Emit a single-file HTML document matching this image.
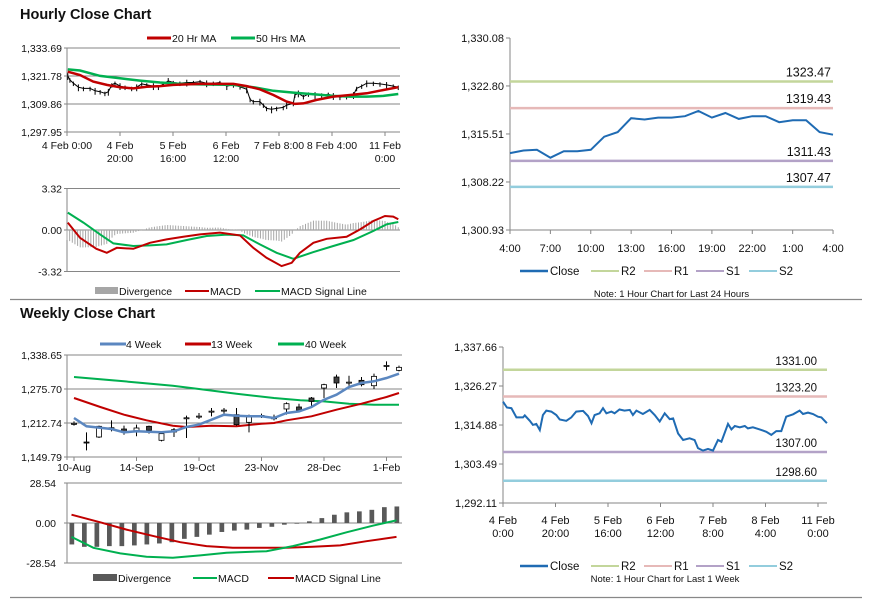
<!DOCTYPE html>
<html><head><meta charset="utf-8"><style>
html,body{margin:0;padding:0;background:#fff;}
svg{display:block;font-family:"Liberation Sans",Arial,sans-serif;}
</style></head><body>
<svg id="s" width="873" height="601" viewBox="0 0 873 601" xmlns="http://www.w3.org/2000/svg">
<rect width="873" height="601" fill="#fff"/>
<text x="20" y="19" font-size="14.5" font-weight="bold" fill="#111">Hourly Close Chart</text>
<text x="20" y="318" font-size="14.5" font-weight="bold" fill="#111">Weekly Close Chart</text>
<line x1="10" y1="299.5" x2="862" y2="299.5" stroke="#888" stroke-width="1.2"/>
<line x1="10" y1="597.5" x2="862" y2="597.5" stroke="#888" stroke-width="1.2"/>
<g id="g"></g>
</svg>
<script>
// ---------- data ----------
const hTicksY=["1,333.69","1,321.78","1,309.86","1,297.95"];
const hTickVals=[1333.69,1321.78,1309.86,1297.95];
const hXLabels1=["4 Feb 0:00","4 Feb","5 Feb","6 Feb","7 Feb 8:00","8 Feb 4:00","11 Feb"];
const hXLabels2=["","20:00","16:00","12:00","","","0:00"];
const hXHours=[0,20,40,60,80,100,120];
const priceHours=[0.3,1.1,2.4,4.3,6.2,8.7,10.6,12.5,14.3,15.6,16.9,18.1,20.0,21.9,24.4,26.3,28.2,30.1,32.6,34.5,36.4,38.2,40.1,42.6,45.2,47.7,50.2,52.7,55.2,57.7,60.3,62.8,65.3,67.8,69.1,70.3,72.8,74.1,75.3,77.2,79.1,81.6,82.9,85.4,86.0,87.3,89.2,91.1,93.6,96.1,98.6,100.5,103.0,105.5,108.1,109.3,111.2,113.1,115.6,118.1,120.6,123.1,125.0];
const priceVals=[1321.8,1320.1,1318.7,1317.0,1316.5,1316.5,1315.5,1315.1,1314.4,1315.1,1318.0,1318.7,1317.5,1317.0,1316.5,1317.0,1318.4,1318.0,1317.5,1317.0,1318.4,1319.7,1319.0,1318.7,1319.0,1319.0,1319.4,1318.7,1318.7,1319.0,1317.5,1318.0,1317.2,1316.1,1311.8,1310.9,1310.9,1309.4,1308.0,1307.6,1308.0,1308.4,1309.4,1310.1,1313.7,1314.4,1313.0,1314.1,1313.7,1313.7,1314.0,1313.3,1312.7,1313.0,1313.7,1316.5,1317.5,1318.7,1318.7,1318.4,1318.0,1317.5,1317.0];
const ma20Hours=[0.3,4.9,9.9,15.0,20.0,25.0,30.1,35.1,40.1,50.2,62.8,67.8,72.8,77.9,82.9,86.0,89.2,94.2,100.5,106.8,113.1,119.4,125.0];
const ma20Vals=[1323.6,1322.2,1319.4,1318.0,1317.0,1316.5,1317.2,1317.5,1318.0,1318.4,1318.4,1317.5,1316.1,1313.7,1310.9,1309.9,1310.1,1311.6,1313.0,1313.7,1314.4,1315.8,1317.0];
const ma50Hours=[0.3,4.9,12.5,20.0,27.5,35.1,42.6,50.2,62.8,70.3,77.9,85.4,93.0,100.5,106.8,113.1,119.4,125.0];
const ma50Vals=[1324.6,1324.1,1321.8,1320.8,1319.8,1319.0,1318.4,1318.2,1318.0,1317.0,1315.5,1314.7,1314.0,1313.3,1313.0,1313.0,1313.3,1314.1];
const hMacdTicks=["3.32","0.00","-3.32"];
const hMacdTickVals=[3.32,0,-3.32];
const hMacdHours=[0.3,4.9,11.1,15.0,18.8,25.0,31.3,37.6,43.9,50.2,57.7,65.3,70.3,75.3,81.0,84.8,87.9,93.0,98.0,105.5,110.6,115.6,120.0,123.1,125.0];
const hMacdVals=[0.59,-0.62,-1.50,-1.82,-1.42,-1.50,-1.02,-0.75,-0.54,-0.35,-0.21,-0.43,-1.42,-2.22,-2.89,-2.62,-1.82,-1.02,-0.70,-0.54,0.05,0.72,1.12,1.07,0.86];
const hSigHours=[0.3,6.2,12.5,17.5,25.0,31.3,37.6,45.2,52.7,60.3,66.5,72.8,79.1,85.4,93.0,100.5,108.1,115.6,120.6,125.0];
const hSigVals=[1.39,0.59,-0.35,-1.07,-1.28,-1.23,-1.15,-0.80,-0.48,-0.37,-0.43,-1.15,-1.82,-2.30,-1.77,-1.28,-0.80,-0.08,0.46,0.64];

const r1Ticks=["1,330.08","1,322.80","1,315.51","1,308.22","1,300.93"];
const r1TickVals=[1330.08,1322.80,1315.51,1308.22,1300.93];
const r1XLabels=["4:00","7:00","10:00","13:00","16:00","19:00","22:00","1:00","4:00"];
const r1Close=[1312.6,1313.0,1313.1,1311.9,1312.9,1312.9,1313.1,1315.1,1315.8,1317.9,1317.7,1318.0,1318.0,1318.2,1319.0,1318.0,1318.7,1317.8,1318.2,1318.2,1317.3,1317.6,1317.6,1315.8,1315.4];
const r1Levels=[1323.47,1319.43,1311.43,1307.47];

const wTicks=["1,338.65","1,275.70","1,212.74","1,149.79"];
const wTickVals=[1338.65,1275.70,1212.74,1149.79];
const wXLabels=["10-Aug","14-Sep","19-Oct","23-Nov","28-Dec","1-Feb"];
const wXWeeks=[0,5,10,15,20,25];
const wOpen=[1211.5,1177.5,1186.8,1203.5,1201.6,1196.1,1206.6,1180.7,1196.1,1222.0,1225.1,1234.3,1236.2,1228.2,1214.0,1226.3,1222.0,1238.7,1242.4,1259.0,1277.5,1297.9,1288.0,1291.7,1281.8,1318.9,1310.2];
const wHigh=[1215.8,1195.5,1207.8,1217.7,1207.8,1209.7,1207.8,1195.5,1203.5,1226.3,1231.3,1240.5,1240.5,1240.5,1228.2,1230.0,1228.2,1251.0,1248.5,1260.9,1285.5,1302.2,1300.3,1297.9,1304.1,1326.9,1318.9];
const wLow=[1207.8,1162.1,1185.0,1197.3,1191.1,1188.1,1193.0,1178.8,1186.8,1185.0,1220.1,1225.1,1228.2,1207.8,1195.5,1222.0,1217.7,1228.2,1232.5,1242.4,1259.0,1277.5,1281.8,1280.6,1275.7,1310.2,1308.4];
const wClose=[1212.0,1177.0,1206.6,1204.0,1197.3,1203.5,1199.2,1193.0,1200.4,1222.4,1225.5,1234.7,1236.6,1209.7,1223.8,1226.7,1222.4,1248.5,1236.2,1252.8,1283.7,1286.8,1288.4,1283.7,1299.1,1319.3,1315.8];
const w4Weeks=[0,1,3,4,5,7,8,9,10,11,12,13,14,15,16,17,18,19,20,21,22,23,24,25,26];
const w4Vals=[1222.0,1206.6,1201.6,1195.5,1197.3,1195.5,1197.3,1205.3,1209.7,1218.9,1228.2,1226.3,1225.1,1225.1,1222.0,1231.3,1234.3,1242.4,1255.9,1265.2,1279.4,1286.8,1289.9,1296.0,1304.1];
const w13Weeks=[0,2.1,4,5.8,7.9,9,11,13,15,16,17,19,21,23,25,26];
const w13Vals=[1259.0,1242.4,1228.2,1217.7,1207.8,1205.3,1207.8,1206.6,1211.5,1212.7,1217.7,1225.1,1237.4,1248.5,1260.9,1268.3];
const w40Weeks=[0,4,7.9,10,13,16,18.1,20,22,24,26];
const w40Vals=[1297.9,1289.9,1281.8,1275.7,1267.0,1259.0,1254.7,1252.8,1248.5,1246.7,1246.7];
const wMacdTicks=["28.54","0.00","-28.54"];
const wMacdTickVals=[28.54,0,-28.54];
const wDiv=[-15.3,-17.0,-17.0,-16.5,-16.5,-16.0,-15.3,-14.6,-13.7,-11.3,-9.9,-8.3,-6.4,-5.4,-4.7,-3.5,-2.7,-1.2,-0.5,1.2,3.5,5.9,7.6,8.3,9.4,11.3,11.8];
const wMacdWeeks=[-0.2,1.55,3.7,5.8,7.9,10.1,12.2,15.4,17.5,19.7,21.8,23.9,25.8];
const wMacdVals=[-9.9,-17.7,-21.7,-24.1,-24.8,-23.1,-21.2,-20.1,-16.5,-11.8,-6.6,-1.9,1.9];
const wSigWeeks=[-0.2,2.1,4.2,6.4,8.5,10.6,12.7,14.9,17.0,19.1,21.3,23.4,25.8];
const wSigVals=[5.9,0.5,-4.7,-9.4,-13.7,-16.5,-17.7,-17.7,-17.7,-17.0,-16.0,-13.0,-9.9];

const r2Ticks=["1,337.66","1,326.27","1,314.88","1,303.49","1,292.11"];
const r2TickVals=[1337.66,1326.27,1314.88,1303.49,1292.11];
const r2XLabels1=["4 Feb","4 Feb","5 Feb","6 Feb","7 Feb","8 Feb","11 Feb"];
const r2XLabels2=["0:00","20:00","16:00","12:00","8:00","4:00","0:00"];
const r2Hours=[0,1.5,3.2,5.1,7.6,8.3,10.2,11.4,12.7,14.0,15.2,16.5,18.4,20.3,21.6,24.1,26.0,27.9,30.5,32.4,33.7,34.9,36.8,38.1,39.4,41.3,42.5,44.4,46.3,48.3,49.5,50.8,53.3,55.9,57.8,59.7,61.6,63.5,64.8,66.7,68.6,71.1,73.0,74.3,76.2,78.1,80.0,81.9,83.2,85.7,87.0,88.3,90.2,92.1,93.3,95.2,97.8,100.3,102.2,104.1,106.0,107.9,110.5,113.0,114.3,116.2,118.1,120.0,121.3,123.4];
const r2Close=[1321.7,1320.0,1319.8,1317.1,1317.1,1317.7,1316.1,1314.9,1315.2,1313.4,1317.8,1319.1,1318.8,1317.8,1316.5,1316.1,1317.1,1318.8,1319.0,1317.5,1315.4,1317.8,1318.3,1319.8,1318.3,1318.8,1318.3,1319.4,1319.1,1319.3,1317.8,1319.1,1318.1,1319.3,1317.8,1315.9,1318.3,1316.6,1316.8,1312.4,1310.5,1311.0,1310.5,1308.1,1307.4,1307.9,1307.4,1310.5,1310.0,1315.2,1313.6,1314.6,1314.2,1314.6,1313.9,1314.2,1313.6,1312.9,1312.0,1313.1,1313.1,1317.3,1318.0,1319.1,1318.1,1318.5,1318.1,1317.3,1317.1,1315.4];
const r2Levels=[1331.00,1323.20,1307.00,1298.60];
const levelNames=["R2","R1","S1","S2"];
const levelColors=["#c3d69b","#e6b9b8","#b3a2c7","#93cddd"];

// ---------- helpers ----------
const NS="http://www.w3.org/2000/svg";
const G=document.getElementById('g');
function mk(tag,attrs,txt){const e=document.createElementNS(NS,tag);for(const k in attrs)e.setAttribute(k,attrs[k]);if(txt!==undefined)e.textContent=txt;G.appendChild(e);return e;}
function path(xs,ys,fx,fy){return xs.map((x,i)=>(i?'L':'M')+fx(x).toFixed(1)+','+fy(ys[i]).toFixed(1)).join(' ');}
function interp(xs,ys,x){if(x<=xs[0])return ys[0];for(let i=1;i<xs.length;i++){if(x<=xs[i]){const t=(x-xs[i-1])/(xs[i]-xs[i-1]);return ys[i-1]+t*(ys[i]-ys[i-1]);}}return ys[ys.length-1];}
const FS=10.5;

// ---------- hourly price ----------
const xh=h=>67+h*2.65, yh=v=>48+(1333.69-v)*(84/35.74);
hTickVals.forEach((v,i)=>{
 const l=mk('line',{x1:64,x2:400,y1:yh(v),y2:yh(v),stroke:'#868686','stroke-width':1});
 
 
 const t=mk('text',{x:62,y:yh(v)+4,'font-size':FS,'text-anchor':'end',fill:'#111'},hTicksY[i]);
 
 
});
{const a=mk('line',{x1:67,x2:67,y1:48,y2:135,stroke:'#868686'});}
hXHours.forEach((h,i)=>{
 mk('line',{x1:xh(h),x2:xh(h),y1:132,y2:136,stroke:'#868686'});
 const t=mk('text',{x:xh(h),y:149,'font-size':FS,'text-anchor':'middle',fill:'#111'},hXLabels1[i]);
 
 
 if(hXLabels2[i]){const t2=mk('text',{x:xh(h),y:162,'font-size':FS,'text-anchor':'middle',fill:'#111'},hXLabels2[i]);
 
 }
});
priceHours.forEach((h,i)=>{
 const v=priceVals[i];const d=(i%3===0)?1.2:0.7;
 const c=mk('line',{x1:xh(h),x2:xh(h),y1:yh(v+d),y2:yh(v-d-0.5),stroke:'#000','stroke-width':1});
 
 
});
{const p=mk('path',{d:path(priceHours,priceVals,xh,yh),fill:'none',stroke:'#000','stroke-width':1});}
{const p=mk('path',{d:path(ma50Hours,ma50Vals,xh,yh),fill:'none',stroke:'#00b050','stroke-width':2.5});}
{const p=mk('path',{d:path(ma20Hours,ma20Vals,xh,yh),fill:'none',stroke:'#c00000','stroke-width':2.5});}
mk('line',{x1:147,x2:171,y1:38,y2:38,stroke:'#c00000','stroke-width':3});
{const t=mk('text',{x:172,y:42,'font-size':FS,fill:'#111'},'20 Hr MA');}
mk('line',{x1:231,x2:255,y1:38,y2:38,stroke:'#00b050','stroke-width':3});
{const t=mk('text',{x:256,y:42,'font-size':FS,fill:'#111'},'50 Hrs MA');}

// ---------- hourly macd ----------
const ym=v=>230-v*(41.5/3.32);
hMacdTickVals.forEach((v,i)=>{
 mk('line',{x1:64,x2:400,y1:ym(v),y2:ym(v),stroke:'#868686'});
 const t=mk('text',{x:62,y:ym(v)+4,'font-size':FS,'text-anchor':'end',fill:'#111'},hMacdTicks[i]);
 
 
});
mk('line',{x1:67,x2:67,y1:189,y2:272,stroke:'#868686'});
for(let h=0;h<=125;h+=1){
 const d=interp(hMacdHours,hMacdVals,h)-interp(hSigHours,hSigVals,h);
 const b=mk('line',{x1:xh(h),x2:xh(h),y1:ym(0),y2:ym(d),stroke:'#a6a6a6','stroke-width':1});
 
 
}
{const p=mk('path',{d:path(hSigHours,hSigVals,xh,ym),fill:'none',stroke:'#00b050','stroke-width':2});}
{const p=mk('path',{d:path(hMacdHours,hMacdVals,xh,ym),fill:'none',stroke:'#c00000','stroke-width':2});}
mk('rect',{x:95,y:287,width:23,height:7,fill:'#a6a6a6'});
{const t=mk('text',{x:119,y:295,'font-size':FS,fill:'#111'},'Divergence');}
mk('line',{x1:185,x2:209,y1:291,y2:291,stroke:'#c00000','stroke-width':2});
{const t=mk('text',{x:210,y:295,'font-size':FS,fill:'#111'},'MACD');}
mk('line',{x1:255,x2:280,y1:291,y2:291,stroke:'#00b050','stroke-width':2});
{const t=mk('text',{x:281,y:295,'font-size':FS,fill:'#111'},'MACD Signal Line');}

// ---------- right level charts ----------
function levelChart(cfg){
 const {x0,x1,y0,y1,vmax,vmin,ticks,tickVals,xs,vals,levels,fx,xlab1,xlab2,xlabX,prefix,legY,noteY,note,legX,labY,lvlOff,lvlFs}=cfg;
 const fy=v=>y0+(vmax-v)*(y1-y0)/(vmax-vmin);
 tickVals.forEach((v,i)=>{
  mk('line',{x1:x0-4,x2:x0,y1:fy(v),y2:fy(v),stroke:'#868686'});
  const t=mk('text',{x:x0-6,y:fy(v)+4,'font-size':FS+0.5,'text-anchor':'end',fill:'#111'},ticks[i]);
  
  
 });
 const ax=mk('line',{x1:x0,x2:x0,y1:y0,y2:y1,stroke:'#868686'});
 
 
 const bx=mk('line',{x1:x0,x2:x1,y1:y1,y2:y1,stroke:'#868686'});
 
 
 xlabX.forEach((h,i)=>{
  mk('line',{x1:fx(h),x2:fx(h),y1:y1,y2:y1+4,stroke:'#868686'});
  const t=mk('text',{x:fx(h),y:labY,'font-size':FS+0.5,'text-anchor':'middle',fill:'#111'},xlab1[i]);
  
  
  if(xlab2){const t2=mk('text',{x:fx(h),y:labY+13,'font-size':FS+0.5,'text-anchor':'middle',fill:'#111'},xlab2[i]);
  
  }
 });
 levels.forEach((v,i)=>{
  const l=mk('line',{x1:x0,x2:x1,y1:fy(v),y2:fy(v),stroke:levelColors[i],'stroke-width':2.5});
  
  
  const t=mk('text',{x:x1-lvlOff,y:fy(v)-5,'font-size':lvlFs,'text-anchor':'end',fill:'#111'},v.toFixed(2));
  
  
 });
 const p=mk('path',{d:path(xs,vals,fx,fy),fill:'none',stroke:'#1f6bb3','stroke-width':2});
 
 
 const names=["Close"].concat(levelNames), cols=["#1f6bb3"].concat(levelColors);
 names.forEach((n,i)=>{
  const bx=legX+[0,71,124,176,229][i];
  mk('line',{x1:bx,x2:bx+28,y1:legY,y2:legY,stroke:cols[i],'stroke-width':i===0?2.5:2});
  const t=mk('text',{x:bx+30,y:legY+4,'font-size':FS+1,fill:'#111'},n);
  
  
 });
 const nt=mk('text',{x:(x0+x1)/2,y:noteY,'font-size':9.5,'text-anchor':'middle',fill:'#111'},note);
 
 
}
const r1Idx=r1Close.map((_,i)=>i);
levelChart({x0:510,x1:833,y0:38,y1:230,vmax:1330.08,vmin:1300.93,ticks:r1Ticks,tickVals:r1TickVals,xs:r1Idx,vals:r1Close,levels:r1Levels,
 fx:h=>510+h*13.46,xlab1:r1XLabels,xlab2:null,xlabX:[0,3,6,9,12,15,18,21,24],prefix:'daily',legY:271,noteY:297,note:'Note: 1 Hour Chart for Last 24 Hours',legX:520,labY:252,lvlOff:2,lvlFs:12.5});
levelChart({x0:503,x1:827,y0:347,y1:503,vmax:1337.66,vmin:1292.11,ticks:r2Ticks,tickVals:r2TickVals,xs:r2Hours,vals:r2Close,levels:r2Levels,
 fx:h=>503+h*2.625,xlab1:r2XLabels1,xlab2:r2XLabels2,xlabX:[0,20,40,60,80,100,120],prefix:'weekly-hourly',legY:566,noteY:582,note:'Note: 1 Hour Chart for Last 1 Week',legX:520,labY:524,lvlOff:10,lvlFs:11.5});

// ---------- weekly candles ----------
const xw=i=>74+i*12.5, yw=v=>355+(1338.65-v)*(102/188.86);
wTickVals.forEach((v,i)=>{
 mk('line',{x1:64,x2:402,y1:yw(v),y2:yw(v),stroke:'#868686'});
 const t=mk('text',{x:62,y:yw(v)+4,'font-size':FS,'text-anchor':'end',fill:'#111'},wTicks[i]);
 
 
});
mk('line',{x1:67,x2:67,y1:355,y2:460,stroke:'#868686'});
wXWeeks.forEach((w,i)=>{
 mk('line',{x1:xw(w),x2:xw(w),y1:457,y2:461,stroke:'#868686'});
 const t=mk('text',{x:xw(w),y:471,'font-size':FS,'text-anchor':'middle',fill:'#111'},wXLabels[i]);
 
 
});
{const p=mk('path',{d:path(w40Weeks,w40Vals,xw,yw),fill:'none',stroke:'#00b050','stroke-width':2});}
{const p=mk('path',{d:path(w13Weeks,w13Vals,xw,yw),fill:'none',stroke:'#c00000','stroke-width':2});}
wOpen.forEach((o,i)=>{
 const c=wClose[i],x=xw(i);
 const wk=mk('line',{x1:x,x2:x,y1:yw(wHigh[i]),y2:yw(wLow[i]),stroke:'#000','stroke-width':1});
 
 
 const top=yw(Math.max(o,c)),bot=yw(Math.min(o,c));
 const b=mk('rect',{x:x-2.5,y:top,width:5,height:Math.max(bot-top,1),fill:c>=o?'#fff':'#404040',stroke:'#000','stroke-width':0.8});
 
 
});
{const p=mk('path',{d:path(w4Weeks,w4Vals,xw,yw),fill:'none',stroke:'#5b87c0','stroke-width':2.5});}
mk('line',{x1:100,x2:126,y1:344,y2:344,stroke:'#5b87c0','stroke-width':3});
{const t=mk('text',{x:126,y:348,'font-size':FS,fill:'#111'},'4 Week');}
mk('line',{x1:185,x2:211,y1:344,y2:344,stroke:'#c00000','stroke-width':3});
{const t=mk('text',{x:211,y:348,'font-size':FS,fill:'#111'},'13 Week');}
mk('line',{x1:278,x2:304,y1:344,y2:344,stroke:'#00b050','stroke-width':3});
{const t=mk('text',{x:305,y:348,'font-size':FS,fill:'#111'},'40 Week');}

// ---------- weekly macd ----------
const ywm=v=>523-v*(40/28.54);
wMacdTickVals.forEach((v,i)=>{
 mk('line',{x1:64,x2:402,y1:ywm(v),y2:ywm(v),stroke:'#868686'});
 const t=mk('text',{x:56,y:ywm(v)+4,'font-size':FS,'text-anchor':'end',fill:'#111'},wMacdTicks[i]);
 
 
});
mk('line',{x1:67,x2:67,y1:483,y2:563,stroke:'#868686'});
wDiv.forEach((d,i)=>{
 const y=Math.min(ywm(0),ywm(d)),h=Math.abs(ywm(d)-ywm(0));
 const b=mk('rect',{x:xw(i)-4.5,y:y,width:4.7,height:Math.max(h,0.5),fill:'#595959'});
 
 
});
{const p=mk('path',{d:path(wSigWeeks,wSigVals,xw,ywm),fill:'none',stroke:'#c00000','stroke-width':2});}
{const p=mk('path',{d:path(wMacdWeeks,wMacdVals,xw,ywm),fill:'none',stroke:'#00b050','stroke-width':2});}
mk('rect',{x:93,y:574,width:24,height:7,fill:'#595959'});
{const t=mk('text',{x:118,y:582,'font-size':FS,fill:'#111'},'Divergence');}
mk('line',{x1:193,x2:217,y1:578,y2:578,stroke:'#00b050','stroke-width':2});
{const t=mk('text',{x:218,y:582,'font-size':FS,fill:'#111'},'MACD');}
mk('line',{x1:268,x2:294,y1:578,y2:578,stroke:'#c00000','stroke-width':2});
{const t=mk('text',{x:295,y:582,'font-size':FS,fill:'#111'},'MACD Signal Line');}
</script>
</body></html>
